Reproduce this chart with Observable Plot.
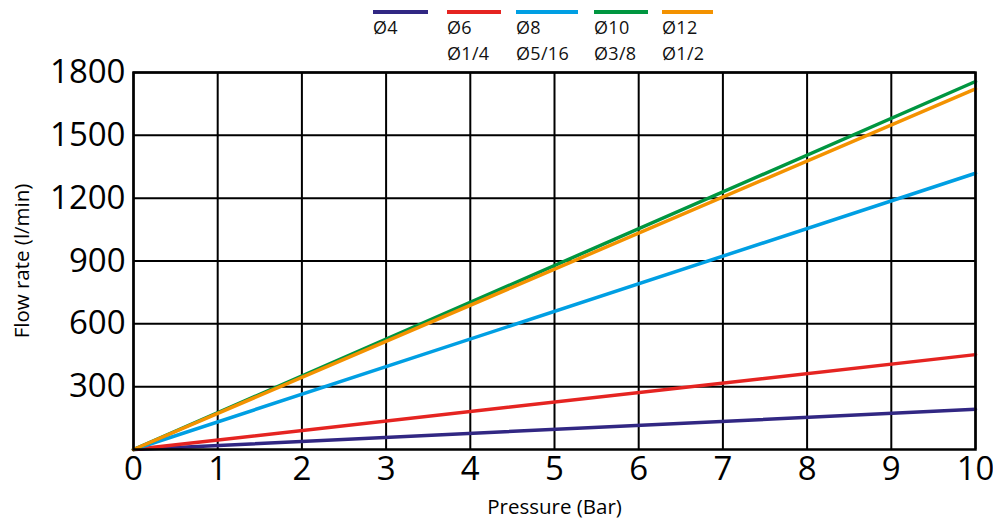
<!DOCTYPE html>
<html>
<head>
<meta charset="utf-8">
<script src="https://cdn.jsdelivr.net/npm/d3@7"></script>
<script src="https://cdn.jsdelivr.net/npm/@observablehq/plot@0.6"></script>
<style>
  html, body { margin: 0; padding: 0; background: #fff; }
  body { width: 993px; height: 526px; overflow: hidden; font-family: "Open Sans", sans-serif; }
  #legend { position: relative; height: 40px; width: 993px; z-index: 2; }
  .item { position: absolute; top: 10px; }
  .swatch { height: 4px; }
  .lbl { font-size: 18px; line-height: 26px; color: #111; margin-top: 0px; letter-spacing: 0.3px; }
  #chart svg { overflow: visible; }
</style>
</head>
<body>
<div id="legend"></div>
<div id="chart"></div>
<script>
// Data
const pressure = [0, 10];                       // Bar
const seriesNames = ["Ø4", "Ø6", "Ø8", "Ø10", "Ø12"];
const seriesSub = ["", "Ø1/4", "Ø5/16", "Ø3/8", "Ø1/2"];
const flowAt = {                                // l/min at each pressure
  "Ø4":  [0, 192],
  "Ø6":  [0, 453],
  "Ø8":  [0, 1319],
  "Ø10": [0, 1757],
  "Ø12": [0, 1722]
};
const colors = ["#312783", "#e52421", "#009fe3", "#009640", "#f39200"];
const yTicks = [300, 600, 900, 1200, 1500, 1800];
const xTicks = [0, 1, 2, 3, 4, 5, 6, 7, 8, 9, 10];

// legend
const legendX = [373, 447, 516, 594, 662];
const legendW = [55, 54, 62, 54, 51];
const legend = document.getElementById("legend");
seriesNames.forEach((n, i) => {
  const d = document.createElement("div");
  d.className = "item";
  d.style.left = legendX[i] + "px";
  d.innerHTML = `<div class="swatch" style="width:${legendW[i]}px;background:${colors[i]}"></div>` +
    `<div class="lbl">${n}<br>${seriesSub[i] || "&nbsp;"}</div>`;
  legend.appendChild(d);
});

const data = seriesNames.flatMap(s => pressure.map((p, j) => ({series: s, p, q: flowAt[s][j]})));

const chart = Plot.plot({
  width: 993,
  height: 486,
  marginLeft: 133,
  marginRight: 18,
  marginTop: 32,
  marginBottom: 77,
  style: {fontFamily: "Open Sans, sans-serif", color: "#000", background: "transparent"},
  x: {domain: [0, 10]},
  y: {domain: [0, 1800]},
  color: {domain: seriesNames, range: colors},
  marks: [
    Plot.gridX(xTicks, {stroke: "#000", strokeOpacity: 1, strokeWidth: 2}),
    Plot.gridY(yTicks, {stroke: "#000", strokeOpacity: 1, strokeWidth: 2}),
    Plot.line(data, {x: "p", y: "q", z: "series", stroke: "series", strokeWidth: 3.5}),
    Plot.frame({stroke: "#000", strokeWidth: 2.5}),
    Plot.axisX(xTicks, {tickSize: 0, tickPadding: 7, fontSize: 33, label: null, tickFormat: d => String(d)}),
    Plot.axisY(yTicks, {tickSize: 0, tickPadding: 8, fontSize: 33, label: null, tickFormat: d => String(d)}),
    Plot.text(["Pressure (Bar)"], {frameAnchor: "bottom", dy: 64, fontSize: 20.5, fill: "#000"}),
    Plot.text(["Flow rate (l/min)"], {frameAnchor: "left", dx: -111, rotate: -90, textAnchor: "middle", fontSize: 20.5, fill: "#000"})
  ]
});
document.getElementById("chart").appendChild(chart);
</script>
</body>
</html>
